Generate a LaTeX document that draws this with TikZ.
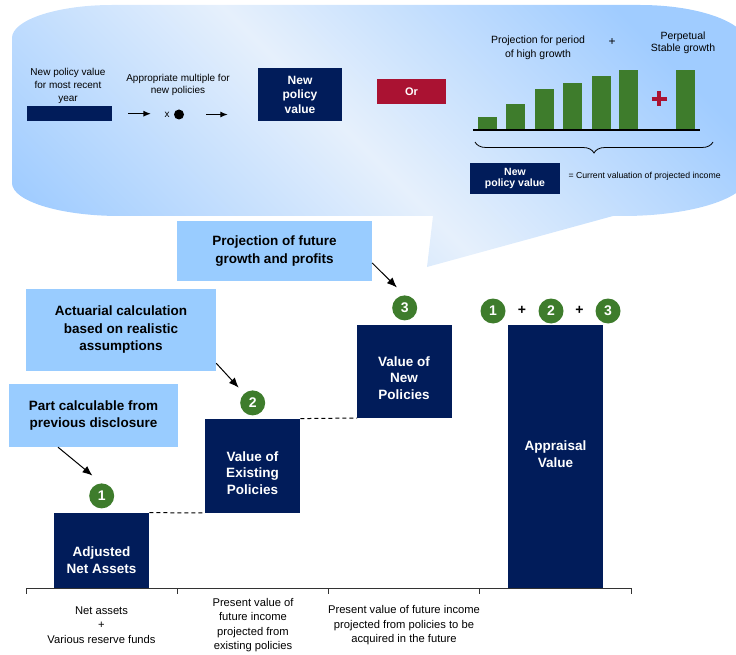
\documentclass[tikz,border=0pt]{standalone}
\usepackage{fontspec}
\setmainfont{Liberation Sans}
\usetikzlibrary{positioning,arrows.meta,decorations.pathreplacing}

\definecolor{navy}{RGB}{1,28,90}
\definecolor{noteblue}{RGB}{153,204,255}
\definecolor{numgreen}{RGB}{62,124,44}
\definecolor{orred}{RGB}{170,18,50}
\definecolor{calloutdark}{RGB}{160,204,255}
\definecolor{calloutlight}{RGB}{230,240,252}

\pgfdeclarehorizontalshading{calloutfill}{100bp}{color(0bp)=(calloutdark); color(20bp)=(calloutdark); color(48bp)=(calloutlight); color(76bp)=(calloutdark); color(100bp)=(calloutdark)}

\tikzset{
  navybar/.style={fill=navy, inner sep=0pt},
  bartext/.style={text=white, font=\bfseries\fontsize{13.5}{16.7}\selectfont, align=center},
  notebox/.style={fill=noteblue, font=\bfseries\fontsize{13.5}{17.5}\selectfont, align=center, inner sep=0pt},
  numcirc/.style={circle, fill=numgreen, text=white, font=\bfseries\fontsize{14}{14}\selectfont, minimum size=25pt, inner sep=0pt},
  smalltext/.style={font=\fontsize{10}{13}\selectfont, align=center},
  axislabel/.style={font=\fontsize{11.2}{14.5}\selectfont, align=center},
  callarrow/.style={-{Latex[length=10pt,width=8pt]}, line width=1pt},
  toparrow/.style={-{Latex[length=7.5pt,width=6pt]}, line width=1.2pt}
}

\begin{document}
\begin{tikzpicture}[x=1pt,y=-1pt]
\useasboundingbox (0,0) rectangle (736,655);

% speech bubble at the top
\shade[shading=calloutfill, shading angle=45]
  (112,5) -- (640,5) .. controls (700,5) and (748,23) .. (748,45)
  -- (748,176) .. controls (748,198) and (692,216) .. (623,216)
  -- (613,216) -- (427,267) -- (433,216) -- (120,216)
  .. controls (60,216) and (12,201) .. (12,183)
  -- (12,38) .. controls (12,20) and (57,5) .. cycle;

% first way: multiple of last year
\node[navybar, minimum width=85pt, minimum height=15pt, anchor=north west] (recentbar) at (27,106) {};
\node[smalltext] (recenttxt) at (68,85.5) {New policy value\\for most recent\\year};
\node[smalltext, font=\fontsize{10}{12}\selectfont] (multtxt) at (178,85) {Appropriate multiple for\\new policies};
\node[font=\fontsize{10}{10}\selectfont] (timesx) at (167,114.5) {x};
\node[circle, fill=black, minimum size=10pt, inner sep=0pt] (multdot) at (179,114.5) {};
\node[navybar, minimum width=84pt, minimum height=53pt, text=white, font=\bfseries\fontsize{12}{14.5}\selectfont, align=center] (npvbox) at (300,94.5) {New\\policy\\value};
\node[fill=orred, minimum width=69pt, minimum height=25pt, inner sep=0pt, text=white, font=\bfseries\fontsize{11}{11}\selectfont] (orbox) at (411.5,91.5) {Or};
\draw[toparrow, shorten <=16pt, shorten >=10pt] (recentbar.east) -- (recentbar.east -| timesx.west);
\draw[toparrow, shorten <=22pt, shorten >=30pt] (multdot.east) -- (multdot.east -| npvbox.west);

% second way: projected income
\foreach \x/\top in {478/117, 506/104, 535/89, 563/83, 592/76, 619/70, 676/70}
  \fill[numgreen] (\x,130) rectangle (\x+19,\top);
\draw[line width=1.1pt] (473,130) -- (700,130);
\node[align=center, font=\fontsize{10.5}{13.5}\selectfont] (hightxt) at (538,48) {Projection for period\\of high growth};
\node[font=\fontsize{12}{12}\selectfont] (topplus) at (612,42) {+};
\node[align=center, font=\fontsize{10.5}{12.5}\selectfont] (stabletxt) at (683,43) {Perpetual\\Stable growth};
\draw[orred, line width=3.2pt] (651.5,99) -- (666.5,99) (659,91.5) -- (659,106.5);
\draw[decorate, decoration={brace, mirror, amplitude=11pt}, line width=0.8pt] (475,142) -- (713,142);
\node[navybar, minimum width=90pt, minimum height=31pt, text=white, font=\bfseries\fontsize{10.5}{10.5}\selectfont, align=center] (npvsmall) at (515,178.5) {New\\policy value};
\node[anchor=west, font=\fontsize{8.7}{8.7}\selectfont] (npvnote) at (565,176.5) {= Current valuation of projected income};

% notes
\node[notebox, minimum width=195pt, minimum height=60pt] (projbox) at (274.5,251) {Projection of future\\growth and profits};
\node[notebox, minimum width=190pt, minimum height=82pt] (actbox) at (121,330) {Actuarial calculation\\based on realistic\\assumptions};
\node[notebox, minimum width=169pt, minimum height=63pt] (partbox) at (93.5,415.5) {Part calculable from\\previous disclosure};

% bars
\node[navybar, minimum width=95pt, minimum height=75pt, anchor=south west] (anabar) at (54,588) {};
\node[navybar, minimum width=95pt, minimum height=94pt, anchor=south west] (existbar) at (205,513) {};
\node[navybar, minimum width=95pt, minimum height=93pt, anchor=south west] (newbar) at (357,418) {};
\node[navybar, minimum width=95pt, minimum height=263pt, anchor=south west] (apprbar) at (508,588) {};
\node[bartext] (anatxt) at (101.5,560) {Adjusted\\Net Assets};
\node[bartext] (existtxt) at (252.5,473) {Value of\\Existing\\Policies};
\node[bartext] (newtxt) at (404,378) {Value of\\New\\Policies};
\node[bartext] (apprtxt) at (555.5,454.5) {Appraisal\\Value};
\draw[dash pattern=on 4pt off 3pt, line width=1pt] (anabar.north east) -- (existbar.south west);
\draw[dash pattern=on 4pt off 3pt, line width=1pt] (existbar.north east) -- (newbar.south west);

% numbers
\node[numcirc, above=4pt of anabar] (num1) {1};
\node[numcirc, above=3pt of existbar] (num2) {2};
\node[numcirc, above=4pt of newbar] (num3) {3};
\node[numcirc] (sum1) at (493,311) {1};
\node[numcirc] (sum2) at (551,311) {2};
\node[numcirc] (sum3) at (608,311) {3};
\node[font=\bfseries\fontsize{14}{14}\selectfont] (plusa) at (522,310) {+};
\node[font=\bfseries\fontsize{14}{14}\selectfont] (plusb) at (579.5,310) {+};

\draw[callarrow, shorten >=12pt] ([xshift=-35.5pt]partbox.south) -- (num1.north);
\draw[callarrow, shorten >=8pt] ([yshift=8pt]actbox.south east) -- (num2);
\draw[callarrow, shorten >=11pt] ([yshift=-12pt]projbox.east) -- (num3.north);

% axis
\draw[line width=0.9pt, black!80] (26,588) -- (631,588);
\foreach \x in {26,177.25,328.5,479.75,631}
  \draw[line width=0.9pt, black!80] (\x,588) -- (\x,594);
\node[axislabel] (netlbl) at (101.5,625) {Net assets\\+\\Various reserve funds};
\node[axislabel] (exlbl) at (253,625) {Present value of\\future income\\projected from\\existing policies};
\node[axislabel] (futlbl) at (404,625.5) {Present value of future income\\projected from policies to be\\acquired in the future};
\end{tikzpicture}
\end{document}
